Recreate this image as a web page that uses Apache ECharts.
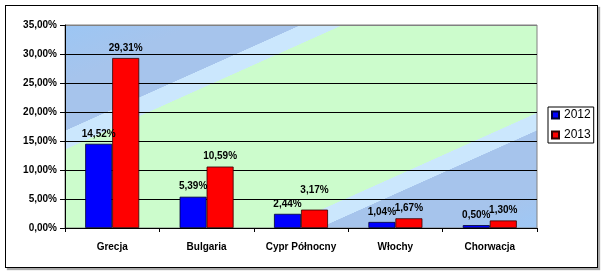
<!DOCTYPE html>
<html>
<head>
<meta charset="utf-8">
<script src="https://cdn.jsdelivr.net/npm/echarts@6/dist/echarts.min.js"></script>
<style>
  html, body { margin: 0; padding: 0; background: #fff; }
  #wrap { position: relative; width: 605px; height: 275px; }
  #chart { width: 605px; height: 275px; }
  #frame { position: absolute; left: 5px; top: 5px; width: 591px; height: 261px;
           border: 1px solid #000; box-shadow: 2px 2px 1px #aaa; pointer-events: none; }
</style>
</head>
<body>
<div id="wrap">
  <div id="chart"></div>
  <div id="frame"></div>
</div>
<script>
// dane z wykresu
const categories = ['Grecja', 'Bulgaria', 'Cypr Północny', 'Włochy', 'Chorwacja'];
const values2012 = [14.52, 5.39, 2.44, 1.04, 0.50];
const values2013 = [29.31, 10.59, 3.17, 1.67, 1.30];
const seriesNames = ['2012', '2013'];

const pct = v => v.toFixed(2).replace('.', ',') + '%';
const font = 'Liberation Sans, Arial, sans-serif';

let chart = echarts.init(document.getElementById('chart'));

// tło: ukośne pasy niebieski / jasny / zielony
const bg = new echarts.graphic.LinearGradient(0, 0, 0.329, 1.701, [
    {offset: 0, color: '#9cc6f4'},
    {offset: 0.14, color: '#a6c4ec'},
    {offset: 0.255, color: '#a6c4ec'},
    {offset: 0.256, color: '#cbe7fd'},
    {offset: 0.30, color: '#cbe7fd'},
    {offset: 0.301, color: '#ccfccc'},
    {offset: 0.72, color: '#ccfccc'},
    {offset: 0.721, color: '#cbe7fd'},
    {offset: 0.762, color: '#cbe7fd'},
    {offset: 0.763, color: '#a6c4ec'},
    {offset: 0.9, color: '#a6c4ec'},
    {offset: 1, color: '#9ec8f6'}
]);

const labelOpt = {
    show: true,
    position: 'top',
    distance: 5,
    formatter: p => pct(p.value),
    color: '#000',
    fontFamily: font,
    fontWeight: 'bold',
    fontSize: 10
};

// etykieta 3,17% podniesiona, żeby nie nachodziła na 2,44%
const data2013 = values2013.map((v, i) => i === 2 ? {value: v, label: {distance: 14}} : v);

const option = {
    animation: false,
    grid: {
        left: 65, right: 68, top: 25, bottom: 47,
        show: true,
        backgroundColor: bg,
        borderColor: '#808080',
        borderWidth: 1
    },
    legend: {
        data: seriesNames,
        orient: 'vertical',
        left: 548,
        top: 107,
        padding: [2, 3],
        itemGap: 8,
        itemWidth: 7,
        itemHeight: 7,
        itemTextGap: 4,
        borderColor: '#000',
        borderWidth: 1,
        icon: 'rect',
        textStyle: {fontFamily: font, fontSize: 12, color: '#000'}
    },
    xAxis: {
        type: 'category',
        data: categories,
        axisLine: {lineStyle: {color: '#000', width: 1}},
        axisTick: {show: true, length: 4, lineStyle: {color: '#000'}},
        axisLabel: {
            margin: 14,
            color: '#000',
            fontFamily: font,
            fontWeight: 'bold',
            fontSize: 10
        }
    },
    yAxis: {
        type: 'value',
        min: 0,
        max: 35,
        interval: 5,
        axisLine: {show: true, lineStyle: {color: '#000', width: 1}},
        axisTick: {show: true, length: 5, lineStyle: {color: '#000'}},
        splitLine: {
            show: true,
            lineStyle: {color: ['#000', '#000', '#000', '#000', '#000', '#000', '#000', '#808080'], width: 1}
        },
        axisLabel: {
            margin: 8,
            formatter: v => pct(v),
            color: '#000',
            fontFamily: font,
            fontWeight: 'bold',
            fontSize: 10
        }
    },
    series: [
        {
            name: seriesNames[0],
            type: 'bar',
            barWidth: 27,
            barGap: '0%',
            data: values2012,
            itemStyle: {color: '#0000ff', borderColor: '#000033', borderWidth: 0.8},
            label: labelOpt
        },
        {
            name: seriesNames[1],
            type: 'bar',
            barWidth: 27,
            barGap: '0%',
            data: data2013,
            itemStyle: {color: '#ff0000', borderColor: '#330000', borderWidth: 0.8},
            label: labelOpt
        }
    ]
};

chart.setOption(option);
window.addEventListener('resize', function () {
    chart.resize();
});
</script>
</body>
</html>
